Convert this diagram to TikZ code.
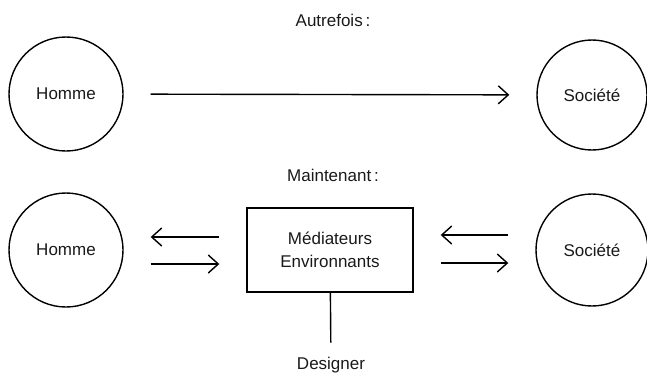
\documentclass[tikz,border=0pt]{standalone}
\usepackage{fontspec}
\setmainfont{Liberation Sans}
\usetikzlibrary{arrows.meta}

\begin{document}
\begin{tikzpicture}[x=1pt,y=1pt,yscale=-1,xscale=1,
  every node/.append style={font=\fontsize{17}{23}\selectfont, text=black!90},
  rond/.style={draw, circle, line width=1.4pt, minimum size=114pt, inner sep=0pt},
  boite/.style={draw, rectangle, line width=1.4pt, minimum width=166pt, minimum height=84pt, align=center},
  fleche/.style={line width=1.4pt, -{Straight Barb[length=10pt,width=18pt]}, shorten <=27pt, shorten >=27pt}]
\useasboundingbox (0,0) rectangle (647,376);

%Shape: Circle
\draw (66,94) node (hommeA) [rond] {Homme};
%Shape: Circle
\draw (592,95) node (societeA) [rond, minimum size=110pt] {Société};
%Shape: Circle
\draw (66,250) node (hommeB) [rond] {Homme};
%Shape: Circle
\draw (592,250) node (societeB) [rond, minimum size=112pt] {Société};
%Shape: Rectangle
\draw (330,250) node (mediateurs) [boite] {Médiateurs\\Environnants};

% Text Node
\draw (333,20) node (autrefois) {Autrefois\,:};
% Text Node
\draw (333,175) node (maintenant) {Maintenant\,:};
% Text Node
\draw (331,365) node (designer) {Designer};

%Straight Lines
\draw [fleche] (hommeA) -- (societeA);
%Straight Lines
\draw [fleche] ([yshift=-13pt]mediateurs.west) -- ([yshift=-13pt]hommeB.east);
\draw [fleche] ([yshift=14pt]hommeB.east) -- ([yshift=14pt]mediateurs.west);
%Straight Lines
\draw [fleche] ([yshift=-15pt]societeB.west) -- ([yshift=-15pt]mediateurs.east);
\draw [fleche] ([yshift=13pt]mediateurs.east) -- ([yshift=13pt]societeB.west);
%Straight Lines
\draw [line width=1.4pt, shorten >=11pt] (mediateurs) -- (designer);

\end{tikzpicture}
\end{document}
